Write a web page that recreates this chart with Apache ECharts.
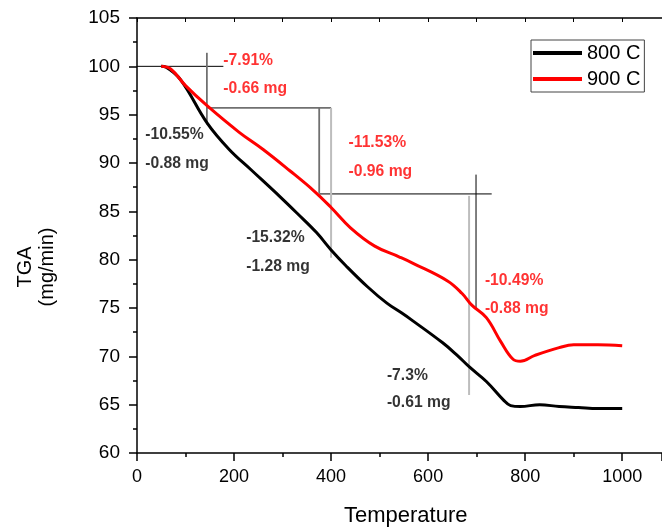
<!DOCTYPE html>
<html>
<head>
<meta charset="utf-8">
<script src="https://cdn.jsdelivr.net/npm/echarts@6/dist/echarts.min.js"></script>
<style>
  html, body { margin: 0; padding: 0; background: #fff; }
  #chart { width: 662px; height: 529px; }
</style>
</head>
<body>
<div id="chart"></div>
<script>
// TGA curves (temperature, weight %)
var temp800 = [50, 60, 90, 145, 190, 235, 295, 330, 370, 400, 430, 475, 515, 545, 565, 630, 660, 685, 720, 755, 770, 790, 830, 870, 910, 950, 1000];
var tga800 = [100, 99.9, 98.6, 94.1, 91.4, 89.3, 86.5, 84.8, 82.8, 81.0, 79.4, 77.2, 75.5, 74.5, 73.8, 71.4, 70.1, 68.9, 67.4, 65.5, 64.9, 64.8, 65.0, 64.8, 64.7, 64.6, 64.6];
var temp900 = [50, 70, 100, 145, 210, 260, 315, 365, 400, 440, 490, 540, 570, 640, 670, 690, 720, 750, 775, 790, 820, 870, 900, 950, 1000];
var tga900 = [100, 99.7, 98.0, 95.9, 93.2, 91.4, 89.2, 87.1, 85.4, 83.3, 81.4, 80.3, 79.6, 77.8, 76.5, 75.3, 74.0, 71.5, 69.7, 69.5, 70.1, 70.9, 71.2, 71.2, 71.1];

var seriesNames = ['800 C', '900 C'];

// construction lines: [x1, y1, x2, y2]
var guideBlack = [[0, 100, 178, 100], [375.5, 86.8, 731, 86.8], [698.7, 88.8, 698.7, 75.0]];
var guideDark = [[144, 101.4, 144, 94.0], [144, 95.7, 400, 95.7], [375.5, 95.7, 375.5, 86.9]];
var guideLight = [[400, 95.7, 400, 80.2], [684.4, 86.6, 684.4, 66.0]];

// mass-loss labels
var redLabels = ['-7.91%', '-0.66 mg', '-11.53%', '-0.96 mg', '-10.49%', '-0.88 mg'];
var redLabelX = [178, 178, 436, 436, 717, 717];
var redLabelY = [100.6, 97.65, 92.07, 89.13, 77.86, 74.9];
var blackLabels = ['-10.55%', '-0.88 mg', '-15.32%', '-1.28 mg', '-7.3%', '-0.61 mg'];
var blackLabelX = [17, 17, 225, 225, 515, 515];
var blackLabelY = [92.93, 89.93, 82.24, 79.3, 68.0, 65.17];

function zip(xs, ys) {
  return xs.map(function (x, i) { return [x, ys[i]]; });
}

function guideSeries(lines, color, width) {
  return lines.map(function (l) {
    return {
      type: 'line',
      data: [[l[0], l[1]], [l[2], l[3]]],
      symbol: 'none',
      silent: true,
      lineStyle: { color: color, width: width },
      z: 1
    };
  });
}

function labelSeries(texts, xs, ys, color) {
  return {
    type: 'scatter',
    symbolSize: 0,
    silent: true,
    data: texts.map(function (t, i) { return { name: t, value: [xs[i], ys[i]] }; }),
    label: {
      show: true,
      position: 'right',
      distance: 0,
      formatter: '{b}',
      color: color,
      fontFamily: 'Liberation Sans',
      fontWeight: 'bold',
      fontSize: 15.7
    },
    z: 5
  };
}

var chart = echarts.init(document.getElementById('chart'));

var font = 'Liberation Sans';

var option = {
  animation: false,
  backgroundColor: '#fff',
  grid: { left: 137, top: 18, right: 0, height: 435, containLabel: false },
  legend: {
    data: seriesNames,
    left: 531,
    top: 40,
    orient: 'vertical',
    padding: [3, 4, 3, 2],
    itemGap: 6,
    itemWidth: 49,
    itemHeight: 4,
    icon: 'rect',
    borderColor: '#444',
    borderWidth: 1,
    textStyle: { fontFamily: font, fontSize: 20, color: '#000' }
  },
  xAxis: [{
    type: 'value',
    min: 0,
    max: 1082,
    interval: 200,
    axisLine: { lineStyle: { color: '#000', width: 1.5 } },
    axisTick: { show: true, inside: false, length: 8, lineStyle: { color: '#000', width: 1.5 } },
    minorTick: { show: true, splitNumber: 2, length: 4, lineStyle: { color: '#000', width: 1.5 } },
    splitLine: { show: false },
    axisLabel: {
      margin: 15, color: '#000', fontFamily: font, fontSize: 18, showMaxLabel: false,
      formatter: function (v) { return String(v); }
    }
  }, {
    type: 'value',
    position: 'top',
    min: 0,
    max: 1082,
    interval: 100,
    axisLine: { show: true, lineStyle: { color: '#000', width: 1.5 } },
    axisTick: { show: true, inside: true, length: 4, lineStyle: { color: '#000', width: 1 } },
    axisLabel: { show: false },
    splitLine: { show: false }
  }],
  yAxis: {
    type: 'value',
    min: 60,
    max: 105,
    interval: 5,
    axisLine: { show: true, lineStyle: { color: '#000', width: 1.5 } },
    axisTick: { show: true, inside: false, length: 8, lineStyle: { color: '#000', width: 1.5 } },
    minorTick: { show: true, splitNumber: 2, length: 4, lineStyle: { color: '#000', width: 1.5 } },
    splitLine: { show: false },
    axisLabel: { margin: 17, color: '#000', fontFamily: font, fontSize: 19 }
  },
  graphic: [{
    type: 'text',
    left: 404 - 60,
    top: 505,
    style: { text: 'Temperature', fontFamily: font, fontSize: 22, fill: '#000', width: 120, align: 'center' }
  }, {
    type: 'text',
    x: 36,
    y: 267,
    rotation: Math.PI / 2,
    style: {
      text: 'TGA\n(mg/min)', fontFamily: font, fontSize: 20, lineHeight: 22, fill: '#000',
      align: 'center', verticalAlign: 'middle'
    }
  }],
  series: [{
    name: seriesNames[0],
    type: 'line',
    data: zip(temp800, tga800),
    smooth: 0.4,
    symbol: 'none',
    color: '#000',
    lineStyle: { color: '#000', width: 3 },
    z: 3
  }, {
    name: seriesNames[1],
    type: 'line',
    data: zip(temp900, tga900),
    smooth: 0.4,
    symbol: 'none',
    color: '#ff0000',
    lineStyle: { color: '#ff0000', width: 3 },
    z: 3
  }]
    .concat(guideSeries(guideBlack, '#000', 1))
    .concat(guideSeries(guideDark, '#707070', 1.8))
    .concat(guideSeries(guideLight, '#bdbdbd', 2))
    .concat([labelSeries(redLabels, redLabelX, redLabelY, '#ff0000'),
             labelSeries(blackLabels, blackLabelX, blackLabelY, '#000')])
};

chart.setOption(option);
</script>
</body>
</html>
